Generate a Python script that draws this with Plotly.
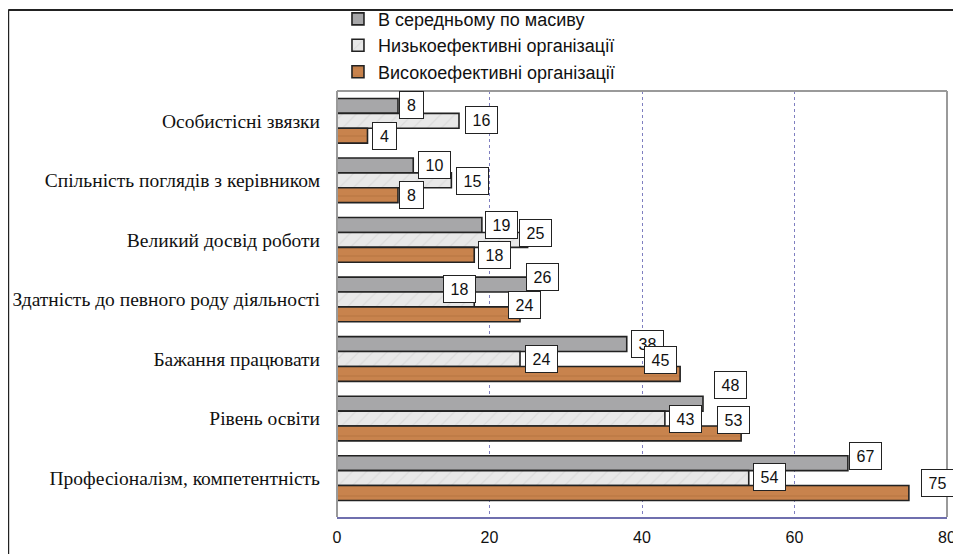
import plotly.graph_objects as go

categories = [
    "Особистісні звязки",
    "Спільність поглядів з керівником",
    "Великий досвід роботи",
    "Здатність до певного роду діяльності",
    "Бажання працювати",
    "Рівень освіти",
    "Професіоналізм, компетентність",
]
series_names = [
    "В середньому по масиву",
    "Низькоефективні організації",
    "Високоефективні організації",
]
avg_values = [8, 10, 19, 26, 38, 48, 67]
low_values = [16, 15, 25, 18, 24, 43, 54]
high_values = [4, 8, 18, 24, 45, 53, 75]
x_ticks = [0, 20, 40, 60, 80]

# label box offsets (pixels) relative to bar end / bar centre: (dx, dy_up)
label_offsets = [
    [(13, 1), (21, 0), (20, 0), (7, 8), (21, 0), (27, 19), (18, 7)],
    [(22, 1), (21, -1), (8, 7), (-15, 10), (21, 0), (21, 0), (21, 1)],
    [(17, 0), (13, 0), (20, 0), (4, 9), (-20, 14), (-8, 13), (29, 10)],
]

fills = ["#a7a7a9", "#e8e8e8", "#c8834d"]
pat_fg = [None, "#cdcdcd", "#a96a38"]
pat_shape = ["", "/", "-"]

all_values = [avg_values, low_values, high_values]
fig = go.Figure()
for i, (name, vals) in enumerate(zip(series_names, all_values)):
    pattern = dict(shape=pat_shape[i])
    if pat_fg[i]:
        pattern.update(fgcolor=pat_fg[i], bgcolor=fills[i], size=10, solidity=0.12, fillmode="overlay")
    fig.add_trace(go.Bar(
        y=categories, x=vals, name=name, orientation="h",
        marker=dict(color=fills[i], line=dict(color="#222222", width=1.6), pattern=pattern),
    ))

bargap = 0.25
w = (1 - bargap) / 3
annotations = []
for i, vals in enumerate(all_values):
    for j, v in enumerate(vals):
        dx, dy = label_offsets[i][j]
        annotations.append(dict(
            x=v, y=j + (i - 1) * w, xref="x", yref="y",
            text=str(v), showarrow=False,
            xanchor="center", yanchor="middle",
            xshift=dx, yshift=dy,
            font=dict(family="Liberation Sans, Arial", size=16, color="#111"),
            bgcolor="white", bordercolor="#222", borderwidth=1,
            borderpad=2, width=27 if v >= 10 else 19, height=22,
        ))

fig.update_layout(
    width=953, height=546,
    margin=dict(l=329, r=14, t=83, b=37, autoexpand=False),
    paper_bgcolor="white", plot_bgcolor="white",
    barmode="group", bargap=bargap, bargroupgap=0,
    showlegend=True,
    legend=dict(
        x=0.0016, y=1.212, xanchor="left", yanchor="top",
        traceorder="normal", orientation="v",
        font=dict(family="Liberation Sans, Arial", size=18, color="#111"),
        bgcolor="rgba(0,0,0,0)", itemwidth=30, tracegroupgap=0,
    ),
    xaxis=dict(
        range=[0, 80], tickvals=x_ticks, ticktext=[str(t) for t in x_ticks],
        showgrid=True, gridcolor="#7f7fc0", gridwidth=1, griddash="dot",
        zeroline=False, showline=True, linecolor="#6f6fae", linewidth=1.5,
        ticks="", tickfont=dict(family="Liberation Sans, Arial", size=16, color="#111"),
        ticklabelstandoff=5, mirror=False,
    ),
    yaxis=dict(
        categoryorder="array", categoryarray=categories,
        autorange="reversed", showgrid=False, zeroline=False,
        showline=False, ticks="",
        tickfont=dict(family="Liberation Serif, Times New Roman", size=19.5, color="#111"),
        ticklabelstandoff=16,
    ),
    annotations=annotations,
    shapes=[
        dict(type="line", xref="paper", yref="paper", x0=0, x1=0, y0=0, y1=1,
             line=dict(color="#9a9a9a", width=2)),
        dict(type="line", xref="paper", yref="paper", x0=0, x1=1, y0=1, y1=1,
             line=dict(color="#9a9a9a", width=2)),
        dict(type="line", xref="paper", yref="paper", x0=1, x1=1, y0=0, y1=1,
             line=dict(color="#9a9a9a", width=2)),
        dict(type="line", xref="paper", yref="paper", x0=-0.539, x1=1.1, y0=1.19, y1=1.19,
             line=dict(color="#222222", width=2)),
        dict(type="line", xref="paper", yref="paper", x0=-0.539, x1=-0.539, y0=-0.2, y1=1.19,
             line=dict(color="#222222", width=2)),
    ],
)

fig.write_html("out.html")
